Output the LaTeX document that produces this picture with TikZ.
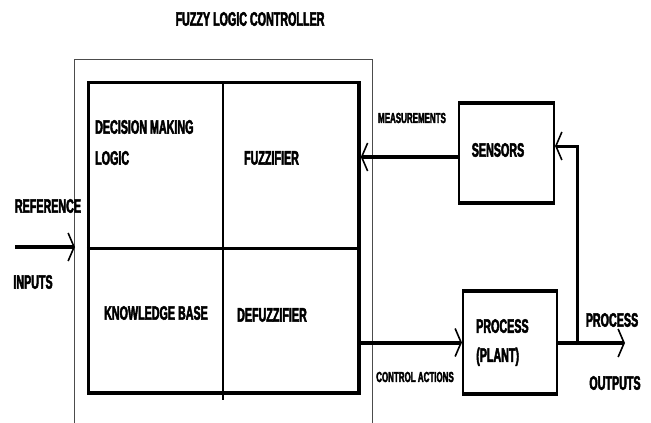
\documentclass[tikz,border=0pt]{standalone}
\usepackage{fontspec}
\setmainfont{Liberation Sans}[FakeStretch=0.55, FakeBold=2.4]
\usetikzlibrary{arrows.meta}
\tikzset{
  lbl/.style={inner sep=0pt, font=\bfseries\fontsize{19.5}{31}\selectfont},
  smalllbl/.style={inner sep=0pt, font=\bfseries\fontsize{14.5}{18}\selectfont},
  blk/.style={draw, line width=2pt, inner sep=0pt},
  flow/.style={line width=4pt, -{Straight Barb[length=6pt, width=28pt, line width=1.6pt]}},
  fback/.style={line width=3pt, -{Straight Barb[length=6pt, width=28pt, line width=1.6pt]}},
}
\begin{document}
\begin{tikzpicture}[x=1pt, y=-1pt]
\useasboundingbox (0,0) rectangle (651,423);
% outer controller frame (open at bottom)
\draw[line width=1pt, black!70] (74.5,430) -- (74.5,59.5) -- (372,59.5) -- (372,430);
\node[lbl] (title) at (250,19) {FUZZY LOGIC CONTROLLER};
% inner grid
\node[draw, line width=3.5pt, minimum width=270.5pt, minimum height=310.5pt, inner sep=0pt] (flc) at (223.75,237.9) {};
\coordinate (vtop) at (222.7,82.7);
\coordinate (vbot) at (222.7,400);
\draw[line width=2pt] (vtop) -- (vbot);
\draw[line width=3pt] (flc.west |- 0,248) -- (flc.east |- 0,248);
\node[lbl, anchor=west, align=left] (dml) at (95,142.5) {DECISION MAKING\\LOGIC};
\node[lbl] (fuzz) at (271.5,158) {FUZZIFIER};
\node[lbl] (kb) at (156,313) {KNOWLEDGE BASE};
\node[lbl] (defuzz) at (272,315) {DEFUZZIFIER};
% inputs
\node[lbl] (ref) at (48,206) {REFERENCE};
\node[lbl] (inp) at (33,282) {INPUTS};
\coordinate (inL) at (15,247);
\coordinate (inR) at (75,247);
\draw[flow] (inL) -- (inR);
% sensors
\node[blk, minimum width=95pt, minimum height=98pt] (sensors) at (506.5,153) {};
\draw[line width=3.5pt] (sensors.north west) -- (sensors.north east);
\draw[line width=3.5pt] (sensors.south west) -- (sensors.south east);
\node[lbl] (senstxt) at (498,150) {SENSORS};
% process
\node[blk, minimum width=94pt, minimum height=101pt] (proc) at (510,342.5) {};
\draw[line width=4pt] (proc.north west) -- (proc.north east);
\draw[line width=4pt] (proc.south west) -- (proc.south east);
\node[lbl, anchor=west, align=left, font=\bfseries\fontsize{19.5}{29}\selectfont] (proctxt) at (476,342.5) {PROCESS\\(PLANT)};
% connectors
\draw[flow] (sensors.west |- 0,157) -- (flc.east |- 0,157);
\node[smalllbl] (meas) at (412,118) {MEASUREMENTS};
\draw[flow] (flc.east |- proc.west) -- (proc.west);
\node[smalllbl] (ca) at (415,377) {CONTROL ACTIONS};
\coordinate (outend) at (625,343);
\draw[flow] (proc.east |- outend) -- (outend);
\coordinate (fb) at (577,345);
\coordinate (fbtop) at (577,146);
\draw[fback] (fb) -- (fbtop) -- (sensors.east |- fbtop);
\node[lbl] (pout) at (612,320) {PROCESS};
\node[lbl] (outs) at (615,383) {OUTPUTS};
\end{tikzpicture}
\end{document}
